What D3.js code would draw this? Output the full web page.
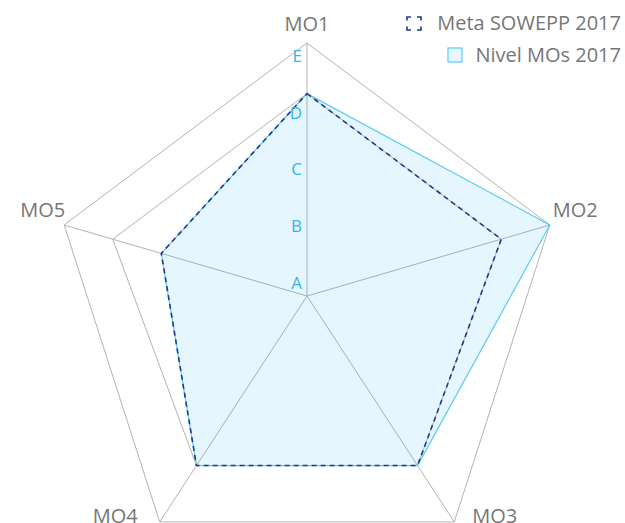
<!DOCTYPE html>
<html>
<head>
<meta charset="utf-8">
<script src="https://cdn.jsdelivr.net/npm/d3@7"></script>
<style>
  body { margin: 0; background: #fff; }
  text { font-family: "Open Sans", sans-serif; }
</style>
</head>
<body>
<div id="wrapper"></div>
<script>
// data
const axes = ["MO1", "MO2", "MO3", "MO4", "MO5"]
const metaValues = [4, 4, 4, 4, 3]
const nivelValues = [4, 5, 4, 4, 3]
const tickLabels = ["A", "B", "C", "D", "E"]
const seriesNames = ["Meta SOWEPP 2017", "Nivel MOs 2017"]

function drawRadar(){
    //1) Dimensions
    let dimensions = {
        width: 625,
        height: 523,
        cx: 307,
        cy: 296,
        radius: 253,
    }

    // angles of the spokes as they appear in the picture (degrees from top)
    const axisAngle = [0, 73.7, 146.9, 213.1, 286.3]
    // the outer frame reaches a bit further on the bottom spokes
    const rimLevel = [5, 5, 5.33, 5.33, 5]
    const labelOffset = [[0, -12, "middle"], [3, -8, "start"], [18, 1, "start"], [-22, 1, "end"], [1, -8, "end"]]

    //2) Canvas
    const wrapper = d3.select("#wrapper")
                      .append("svg")
                      .attr("width", dimensions.width)
                      .attr("height", dimensions.height)

    const bounds = wrapper.append("g")
                          .attr("transform", `translate(${dimensions.cx},${dimensions.cy})`)

    //3) Scales
    const rScale = d3.scaleLinear()
                     .domain([0, 5])
                     .range([0, dimensions.radius])

    const angleScale = d3.scaleOrdinal()
                         .domain(axes)
                         .range(axisAngle.map(a => a * Math.PI / 180))

    const tickScale = d3.scalePoint()
                        .domain(tickLabels)
                        .range([-13, -240])

    const point = (axis, v) => {
        const a = angleScale(axis)
        return [Math.sin(a) * rScale(v), -Math.cos(a) * rScale(v)]
    }

    const lineGen = d3.line().curve(d3.curveLinearClosed)

    //4) Grid
    const grid = bounds.append("g")
                       .attr("fill", "none")
                       .attr("stroke", "#b3b3b3")
                       .attr("stroke-width", 1)

    grid.append("path")
        .attr("d", lineGen(axes.map(a => point(a, 4))))

    grid.append("path")
        .attr("d", lineGen(axes.map((a, i) => point(a, rimLevel[i]))))

    grid.selectAll("line")
        .data(axes)
        .enter()
        .append("line")
        .attr("x1", 0)
        .attr("y1", 0)
        .attr("x2", (d, i) => point(d, rimLevel[i])[0])
        .attr("y2", (d, i) => point(d, rimLevel[i])[1])

    //5) Data
    bounds.append("path")
          .attr("d", lineGen(axes.map((a, i) => point(a, nivelValues[i]))))
          .attr("fill", "rgba(3,169,244,0.1)")
          .attr("stroke", "#5ccaf5")
          .attr("stroke-width", 1.2)

    bounds.append("path")
          .attr("d", lineGen(axes.map((a, i) => point(a, metaValues[i]))))
          .attr("fill", "none")
          .attr("stroke", "#1e3a8e")
          .attr("stroke-width", 1.6)
          .attr("stroke-dasharray", "5,4")

    //6) Peripherals
    bounds.selectAll(".tick-label")
          .data(tickLabels)
          .enter()
          .append("text")
          .attr("class", "tick-label")
          .attr("x", -5)
          .attr("y", d => tickScale(d))
          .attr("dy", "0.35em")
          .attr("text-anchor", "end")
          .attr("fill", "#33b5ec")
          .style("font-size", "17px")
          .text(d => d)

    bounds.selectAll(".axis-label")
          .data(axes)
          .enter()
          .append("text")
          .attr("class", "axis-label")
          .attr("x", (d, i) => point(d, rimLevel[i])[0] + labelOffset[i][0])
          .attr("y", (d, i) => point(d, rimLevel[i])[1] + labelOffset[i][1])
          .attr("text-anchor", (d, i) => labelOffset[i][2])
          .attr("fill", "#767676")
          .style("font-size", "20px")
          .text(d => d)

    // legend
    const legend = wrapper.append("g")

    legend.append("rect")
          .attr("x", 407)
          .attr("y", 17)
          .attr("width", 14)
          .attr("height", 13)
          .attr("fill", "none")
          .attr("stroke", "#1e3a8e")
          .attr("stroke-width", 1.6)
          .attr("stroke-dasharray", "7.5,6")
          .attr("stroke-dashoffset", 3.5)

    legend.append("rect")
          .attr("x", 448)
          .attr("y", 48)
          .attr("width", 14)
          .attr("height", 14)
          .attr("fill", "rgba(3,169,244,0.1)")
          .attr("stroke", "#5ccaf5")
          .attr("stroke-width", 1.2)

    legend.selectAll(".legend-label")
          .data(seriesNames)
          .enter()
          .append("text")
          .attr("class", "legend-label")
          .attr("x", 621)
          .attr("y", (d, i) => 30 + i * 32)
          .attr("text-anchor", "end")
          .attr("fill", "#767676")
          .style("font-size", "20px")
          .text(d => d)
}

drawRadar()
</script>
</body>
</html>
